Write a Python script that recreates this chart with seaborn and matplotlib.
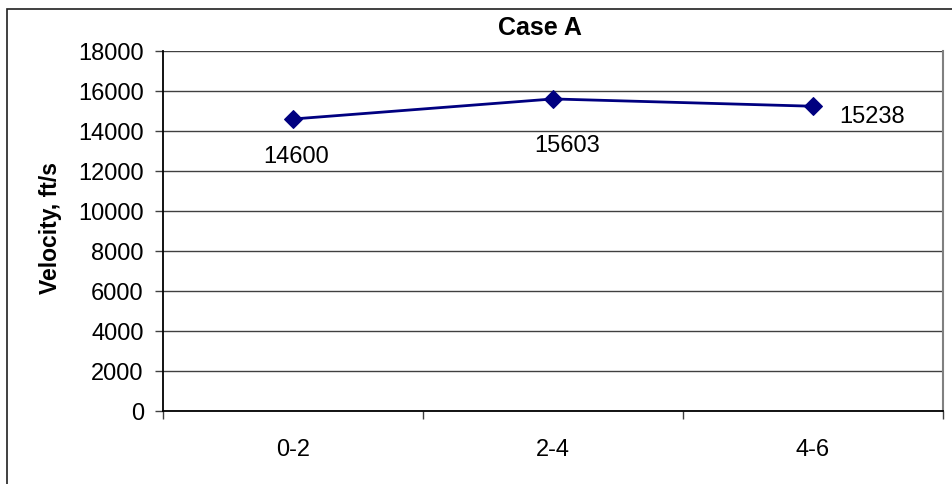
import matplotlib
matplotlib.use("Agg")
import matplotlib.pyplot as plt
import seaborn as sns
import pandas as pd
from matplotlib.patches import Rectangle

categories = ["0-2", "2-4", "4-6"]
velocity = [14600, 15603, 15238]
yticks = [0, 2000, 4000, 6000, 8000, 10000, 12000, 14000, 16000, 18000]

sns.set_theme(style="white")
plt.rcParams['font.family'] = ['Liberation Sans', 'DejaVu Sans']
plt.rcParams['text.color'] = 'black'
plt.rcParams['axes.labelcolor'] = 'black'
plt.rcParams['xtick.color'] = 'black'
plt.rcParams['ytick.color'] = 'black'

df = pd.DataFrame({"x": range(len(categories)), "v": velocity})

fig = plt.figure(figsize=(9.53, 4.84), dpi=100)
W, H = 953, 484
ax = fig.add_axes([163 / W, 1 - 411 / H, (943 - 163) / W, (411 - 51) / H])

sns.lineplot(data=df, x="x", y="v", ax=ax, color="#000080", linewidth=2,
             marker="D", markersize=9, markeredgecolor="#000080")

ax.set_xlim(-0.5, 2.5)
ax.set_ylim(0, 18000)
ax.set_yticks(yticks)
ax.set_yticklabels([str(t) for t in yticks], fontsize=17)
ax.set_xticks(range(len(categories)))
ax.set_xticklabels(categories, fontsize=17)
ax.set_xticks([-0.5, 0.5, 1.5, 2.5], minor=True)
ax.tick_params(axis="x", which="major", length=0, pad=20)
ax.tick_params(axis="x", which="minor", length=5.5, width=1, color="#404040", direction="out", bottom=True)
ax.tick_params(axis="y", length=5.8, width=1, color="#404040", direction="out", left=True, pad=8)
ax.grid(axis="y", color="#404040", linewidth=1)
ax.set_axisbelow(True)
ax.set_xlabel("")
ax.set_ylabel("Velocity, ft/s", fontsize=16.5, fontweight="bold")
ax.yaxis.set_label_coords(62 / W, 1 - 228 / H, transform=fig.transFigure)

for s in ["left", "bottom"]:
    ax.spines[s].set_color("black")
    ax.spines[s].set_linewidth(1.3)
ax.spines["top"].set_visible(False)
ax.spines["right"].set_color("#808080")
ax.spines["right"].set_linewidth(1.5)

offsets = [(3, -38), (14, -47), (59, -11)]
for i, (v, off) in enumerate(zip(velocity, offsets)):
    ax.annotate(str(v), (i, v), xytext=off, textcoords="offset pixels",
                ha="center", va="center", fontsize=17, color="black")

fig.text(540 / W, 1 - 28 / H, "Case A", ha="center", va="center",
         fontsize=18, fontweight="bold")

fig.patches.append(Rectangle((7 / W, -0.1), 1.2, 1 - 9 / H + 0.1,
                             transform=fig.transFigure, fill=False,
                             edgecolor="#202020", linewidth=1.2))

fig.savefig("out.png", dpi=100)
